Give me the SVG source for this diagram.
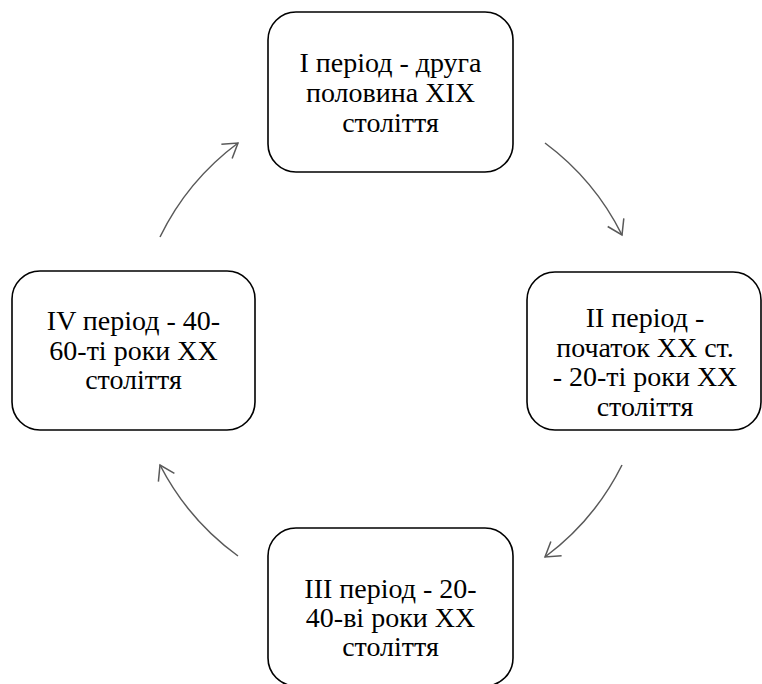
<svg xmlns="http://www.w3.org/2000/svg" width="762" height="684" viewBox="0 0 762 684">
  <defs>
    <marker id="chev" markerUnits="userSpaceOnUse" markerWidth="30" markerHeight="30" viewBox="-20 -15 30 30" refX="0" refY="0" orient="auto">
      <path d="M-14,-9 L0,0 L-14,9" fill="none" stroke="#595959" stroke-width="1.5"/>
    </marker>
  </defs>
  <rect width="762" height="684" fill="#ffffff"/>

  <g id="connectors" fill="none" stroke="#595959" stroke-width="1.5">
    <path d="M545,143 A258,258 0 0 1 622,235" marker-end="url(#chev)"/>
    <path d="M622,465 A258,258 0 0 1 545,557" marker-end="url(#chev)"/>
    <path d="M238,556 A258,258 0 0 1 160,465" marker-end="url(#chev)"/>
    <path d="M160,237 A258,258 0 0 1 238,143" marker-end="url(#chev)"/>
  </g>

  <g id="node1">
    <rect x="268" y="12" width="245" height="160" rx="28" ry="28" fill="#ffffff" stroke="#000000" stroke-width="1.6"/>
    <text font-family="'Liberation Serif', 'Times New Roman', Tinos, serif" font-size="28" text-anchor="middle" x="390.5" y="72">І період - друга</text>
    <text font-family="'Liberation Serif', 'Times New Roman', Tinos, serif" font-size="28" text-anchor="middle" x="390.5" y="102">половина XIX</text>
    <text font-family="'Liberation Serif', 'Times New Roman', Tinos, serif" font-size="28" text-anchor="middle" x="390.5" y="132">століття</text>
  </g>

  <g id="node2">
    <rect x="527" y="272" width="234" height="158" rx="28" ry="28" fill="#ffffff" stroke="#000000" stroke-width="1.6"/>
    <text font-family="'Liberation Serif', 'Times New Roman', Tinos, serif" font-size="28" text-anchor="middle" x="645" y="327">II період -</text>
    <text font-family="'Liberation Serif', 'Times New Roman', Tinos, serif" font-size="28" text-anchor="middle" x="645" y="356.5">початок XX ст.</text>
    <text font-family="'Liberation Serif', 'Times New Roman', Tinos, serif" font-size="28" text-anchor="middle" x="645" y="386">- 20-ті роки XX</text>
    <text font-family="'Liberation Serif', 'Times New Roman', Tinos, serif" font-size="28" text-anchor="middle" x="645" y="415.5">століття</text>
  </g>

  <g id="node3">
    <rect x="268" y="528" width="245" height="158" rx="28" ry="28" fill="#ffffff" stroke="#000000" stroke-width="1.6"/>
    <text font-family="'Liberation Serif', 'Times New Roman', Tinos, serif" font-size="28" text-anchor="middle" x="390.5" y="598">III період - 20-</text>
    <text font-family="'Liberation Serif', 'Times New Roman', Tinos, serif" font-size="28" text-anchor="middle" x="390.5" y="627">40-ві роки XX</text>
    <text font-family="'Liberation Serif', 'Times New Roman', Tinos, serif" font-size="28" text-anchor="middle" x="390.5" y="656">століття</text>
  </g>

  <g id="node4">
    <rect x="12" y="271" width="243" height="159" rx="28" ry="28" fill="#ffffff" stroke="#000000" stroke-width="1.6"/>
    <text font-family="'Liberation Serif', 'Times New Roman', Tinos, serif" font-size="28" text-anchor="middle" x="133.5" y="330">IV період - 40-</text>
    <text font-family="'Liberation Serif', 'Times New Roman', Tinos, serif" font-size="28" text-anchor="middle" x="133.5" y="359.5">60-ті роки XX</text>
    <text font-family="'Liberation Serif', 'Times New Roman', Tinos, serif" font-size="28" text-anchor="middle" x="133.5" y="389">століття</text>
  </g>
</svg>
